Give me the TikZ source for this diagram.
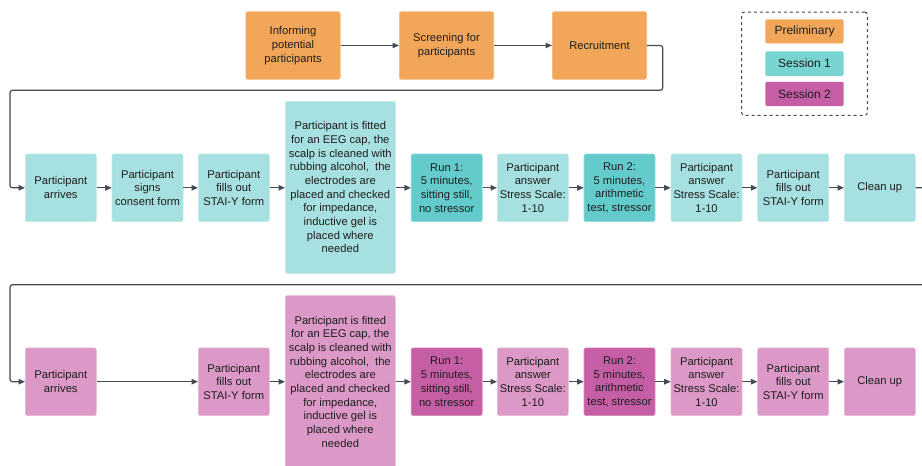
\documentclass[tikz,border=0pt]{standalone}
\usepackage{fontspec}
\setmainfont{Liberation Sans}
\usetikzlibrary{arrows.meta}
\definecolor{prelimfill}{RGB}{242,166,90}
\definecolor{sonefill}{RGB}{166,224,224}
\definecolor{sonerun}{RGB}{100,203,204}
\definecolor{sonekey}{RGB}{120,212,208}
\definecolor{stwofill}{RGB}{220,152,198}
\definecolor{stworun}{RGB}{198,94,165}
\definecolor{linegrey}{RGB}{68,75,84}
\definecolor{txt}{RGB}{30,30,30}
\tikzset{
  stepbox/.style={rectangle, rounded corners=2pt, inner sep=0pt, align=center,
    text=txt, font=\fontsize{11.2}{13.7}\selectfont, line width=0.6pt,
    minimum width=71pt, minimum height=67.7pt},
  prelim/.style={stepbox, fill=prelimfill, draw=prelimfill!80!white,
    minimum width=94.4pt, minimum height=67.5pt},
  sone/.style={stepbox, fill=sonefill, draw=sonefill!70!white},
  sonerun/.style={stepbox, fill=sonerun, draw=sonerun!70!white},
  stwo/.style={stepbox, fill=stwofill, draw=stwofill!70!white},
  stworun/.style={stepbox, fill=stworun, draw=stworun!70!white},
  tall/.style={minimum width=110pt, minimum height=172pt},
  keybox/.style={rectangle, rounded corners=2pt, inner sep=0pt, text=txt,
    font=\fontsize{12}{14}\selectfont, minimum width=78.4pt, minimum height=24pt},
  flow/.style={draw=linegrey, line width=1.2pt, rounded corners=2.5pt,
    -{Triangle[length=6.5pt,width=5.5pt]}},
}
\begin{document}
\begin{tikzpicture}[x=1pt, y=-1pt]
\clip (0,0) rectangle (922,466);
\fill[white] (0,0) rectangle (922,466);

% preliminary steps
\node[prelim] (inform) at (293,45.5) {Informing\\potential\\participants};
\node[prelim] (screen) at (446.5,45.5) {Screening for\\participants};
\node[prelim] (recruit) at (599.5,45.5) {Recruitment};

% legend
\node[draw=linegrey, dashed, line width=1pt, rounded corners=2.5pt,
  minimum width=125.6pt, minimum height=103.3pt, inner sep=0pt] (legend) at (804.5,63.7) {};
\node[keybox, fill=prelimfill] (kpre) at (804.5,31.4) {Preliminary};
\node[keybox, fill=sonekey, minimum height=24.7pt] (kone) at (804.5,63.7) {Session 1};
\node[keybox, fill=stworun, minimum height=24.3pt] (ktwo) at (804.5,93.9) {Session 2};

% session 1
\node[sone] (arr1) at (60.8,187.8) {Participant\\arrives};
\node[sone] (cons1) at (147.5,187.8) {Participant\\signs\\consent form};
\node[sone] (stai1) at (233.8,187.8) {Participant\\fills out\\STAI-Y form};
\node[sone, tall] (eeg1) at (340.3,187.3) {Participant is fitted\\for an EEG cap, the\\scalp is cleaned with\\rubbing alcohol,\ \ the\\electrodes are\\placed and checked\\for impedance,\\inductive gel is\\placed where\\needed};
\node[sonerun] (runa1) at (446.7,187.8) {Run 1:\\5 minutes,\\sitting still,\\no stressor};
\node[sone] (ansa1) at (532.8,187.8) {Participant\\answer\\Stress Scale:\\1-10};
\node[sonerun] (runb1) at (619.5,187.8) {Run 2:\\5 minutes,\\arithmetic\\test, stressor};
\node[sone] (ansb1) at (706.5,187.8) {Participant\\answer\\Stress Scale:\\1-10};
\node[sone] (staib1) at (793.2,187.8) {Participant\\fills out\\STAI-Y form};
\node[sone] (clean1) at (879.8,187.8) {Clean up};

% session 2
\node[stwo] (arr2) at (60.8,381.7) {Participant\\arrives};
\node[stwo] (stai2) at (233.8,381.7) {Participant\\fills out\\STAI-Y form};
\node[stwo, tall] (eeg2) at (340.3,381.7) {Participant is fitted\\for an EEG cap, the\\scalp is cleaned with\\rubbing alcohol,\ \ the\\electrodes are\\placed and checked\\for impedance,\\inductive gel is\\placed where\\needed};
\node[stworun] (runa2) at (446.7,381.7) {Run 1:\\5 minutes,\\sitting still,\\no stressor};
\node[stwo] (ansa2) at (532.8,381.7) {Participant\\answer\\Stress Scale:\\1-10};
\node[stworun] (runb2) at (619.5,381.7) {Run 2:\\5 minutes,\\arithmetic\\test, stressor};
\node[stwo] (ansb2) at (706.5,381.7) {Participant\\answer\\Stress Scale:\\1-10};
\node[stwo] (staib2) at (793.2,381.7) {Participant\\fills out\\STAI-Y form};
\node[stwo] (clean2) at (879.8,381.7) {Clean up};

% route points for the wrap-around connectors
\coordinate (wrapA) at (662.7,90.3);
\coordinate (wrapB) at (940,284.7);

% connectors
\draw[flow] (inform) -- (screen);
\draw[flow] (screen) -- (recruit);
\draw[flow] (recruit.east) -- (wrapA |- recruit.east) -- (wrapA) -- (10,90.3) -- (10,187.8) -- (arr1.west);
\draw[flow] (arr1) -- (cons1);
\draw[flow] (cons1) -- (stai1);
\draw[flow] (stai1) -- (stai1 -| eeg1.west);
\draw[flow] (runa1 -| eeg1.east) -- (runa1);
\draw[flow] (runa1) -- (ansa1);
\draw[flow] (ansa1) -- (runb1);
\draw[flow] (runb1) -- (ansb1);
\draw[flow] (ansb1) -- (staib1);
\draw[flow] (staib1) -- (clean1);
\draw[flow] (clean1.east) -- (wrapB |- clean1.east) -- (wrapB) -- (10,284.7) -- (10,381.7) -- (arr2.west);
\draw[flow] (arr2) -- (stai2);
\draw[flow] (stai2) -- (eeg2);
\draw[flow] (eeg2) -- (runa2);
\draw[flow] (runa2) -- (ansa2);
\draw[flow] (ansa2) -- (runb2);
\draw[flow] (runb2) -- (ansb2);
\draw[flow] (ansb2) -- (staib2);
\draw[flow] (staib2) -- (clean2);
\end{tikzpicture}
\end{document}
